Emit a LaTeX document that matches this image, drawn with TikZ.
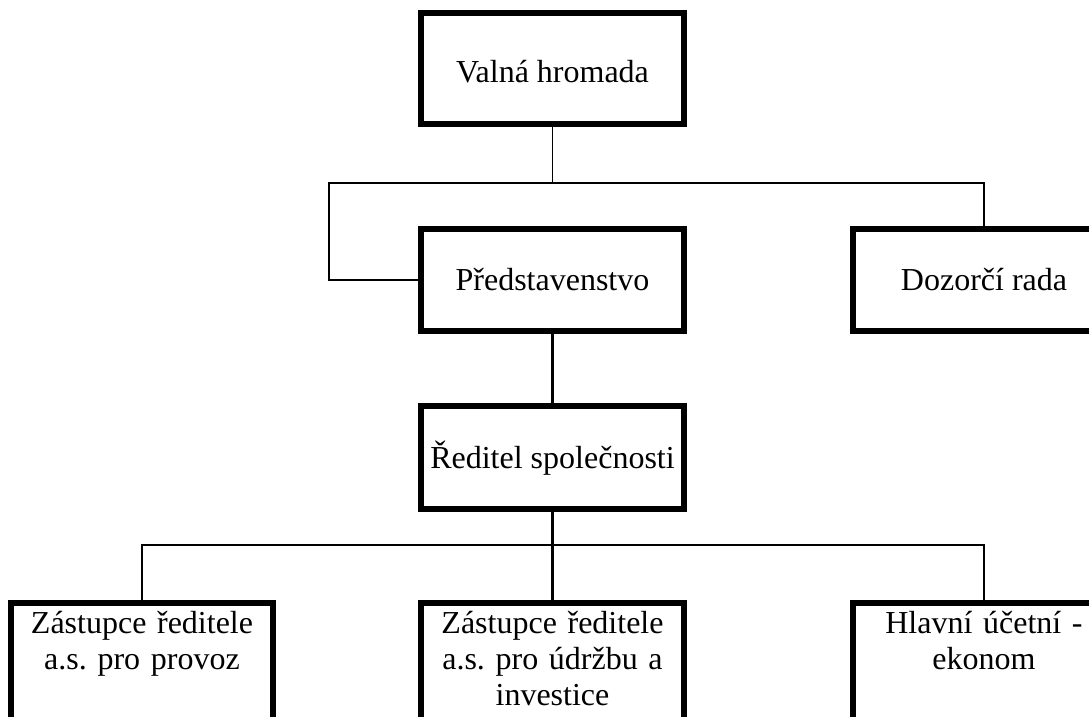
\documentclass[tikz,border=0pt]{standalone}
\usepackage{fontspec}
\setmainfont{Liberation Serif}
\usepackage{tikz}
\frenchspacing

\begin{document}
\begin{tikzpicture}[x=.75pt,y=-.75pt,line width=1.3pt,font=\fontsize{24pt}{27pt}\selectfont,
  box/.style={draw,line width=4.5pt,minimum width=197pt,minimum height=77pt,inner sep=0pt,align=center,text height=15.9pt,text depth=0pt},
  subbox/.style={box,anchor=north,text width=197pt,text depth=110pt,inner ysep=6.6pt}]
\useasboundingbox (0,0) rectangle (1089,717);
\clip (0,0) rectangle (1089,717);
\node[box,minimum height=83pt,text height=21pt] (valna) at (552.5,68.5) {Valná hromada};
\node[box] (predst) at (552.5,280) {Představenstvo};
\node[box] (dozor) at (984,280) {Dozorčí rada};
\node[box] (reditel) at (552.5,457.5) {Ředitel společnosti};
\node[subbox] (provoz) at (142,600) {Zástupce ředitele\\a.s. pro provoz};
\node[subbox] (udrzba) at (552.5,600) {Zástupce ředitele\\a.s. pro údržbu a\\investice};
\node[subbox] (ucetni) at (984,600) {Hlavní účetní -\\ekonom};
\coordinate (jA) at (552.5,183);\coordinate (kA) at (329,183);\coordinate (jB) at (552.5,545);
\draw (valna.south)--(jA);
\draw (predst.west)-|(kA)-|(dozor.north);
\draw[line width=1.9pt] (predst.south)--(reditel.north);
\draw[line width=1.9pt] (reditel.south)--(udrzba.north);
\draw[line width=1.9pt] (provoz.north)|-(jB)-|(ucetni.north);
\end{tikzpicture}
\end{document}
